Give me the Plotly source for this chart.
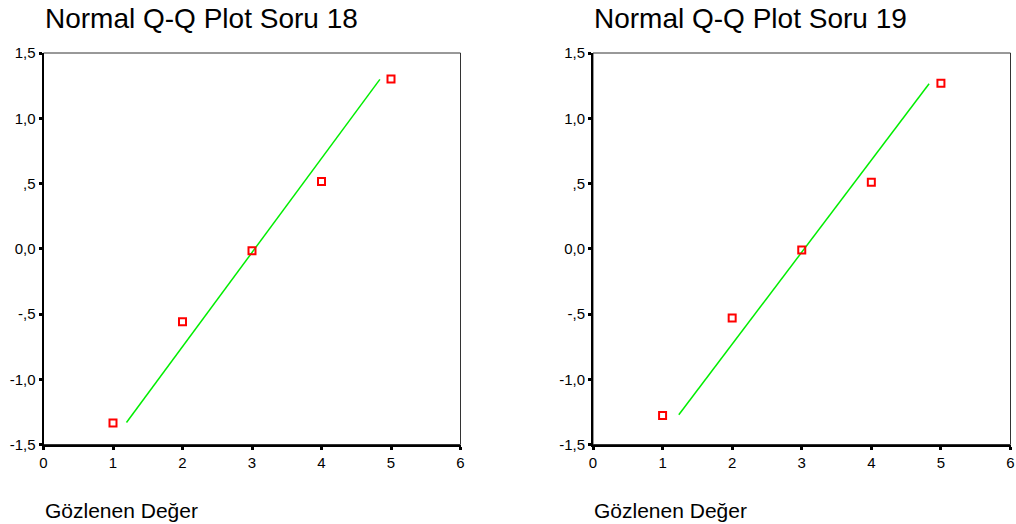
import plotly.graph_objects as go

# Data
observed = [1, 2, 3, 4, 5]
expected_18 = [-1.336, -0.559, -0.015, 0.515, 1.30]
expected_19 = [-1.277, -0.531, -0.010, 0.510, 1.269]
line18_x = [1.194, 4.84]
line18_y = [-1.331, 1.298]
line19_x = [1.233, 4.83]
line19_y = [-1.272, 1.264]
titles = ["Normal Q-Q Plot Soru 18", "Normal Q-Q Plot Soru 19"]
xlabel = "Gözlenen Değer"
ytick_vals = [-1.5, -1.0, -0.5, 0.0, 0.5, 1.0, 1.5]
ytick_text = ["-1,5", "-1,0", "-,5", "0,0", ",5", "1,0", "1,5"]
xtick_vals = [0, 1, 2, 3, 4, 5, 6]

W, H = 1016, 524
FONT = "Liberation Sans, Arial, sans-serif"

fig = go.Figure()

panels = [
    (expected_18, line18_x, line18_y, "x", "y", [43.5 / W, 460.5 / W]),
    (expected_19, line19_x, line19_y, "x2", "y2", [593 / W, 1010.5 / W]),
]
ydom = [1 - 444.5 / H, 1 - 53 / H]

for i, (ys, lx, ly, xa, ya, xdom) in enumerate(panels):
    fig.add_trace(go.Scatter(x=lx, y=ly, mode="lines", xaxis=xa, yaxis=ya,
                             line=dict(color="#00ee00", width=1.5),
                             showlegend=False, hoverinfo="skip"))
    fig.add_trace(go.Scatter(x=observed, y=ys, mode="markers", xaxis=xa, yaxis=ya,
                             marker=dict(symbol="square-open", size=7, color="#ff0000",
                                         line=dict(width=2, color="#ff0000")),
                             showlegend=False))
    sfx = "" if i == 0 else "2"
    fig.update_layout(**{
        "xaxis" + sfx: dict(domain=xdom, range=[0, 6], tickvals=xtick_vals,
                            ticktext=[str(v) for v in xtick_vals],
                            showline=True, linecolor="black", linewidth=2,
                            ticks="outside", ticklen=3, tickwidth=3, tickcolor="black",
                            showgrid=False, zeroline=False, anchor="y" + sfx,
                            automargin=False,
                            tickfont=dict(family=FONT, size=15, color="black")),
        "yaxis" + sfx: dict(domain=ydom, range=[-1.5, 1.5], tickvals=ytick_vals,
                            ticktext=ytick_text,
                            showline=True, linecolor="black", linewidth=2,
                            ticks="outside", ticklen=3, tickwidth=3, tickcolor="black",
                            showgrid=False, zeroline=False, anchor="x" + sfx,
                            automargin=False,
                            tickfont=dict(family=FONT, size=15, color="black")),
    })
    fig.add_shape(type="rect", xref=xa + " domain", yref=ya + " domain",
                  x0=0, x1=1, y0=0, y1=1, line=dict(color="#333333", width=1),
                  layer="below")
    fig.add_annotation(text=titles[i], xref="paper", yref="paper",
                       x=xdom[0] - 1 / W, y=1 - 19 / H, xanchor="left", yanchor="middle",
                       showarrow=False, font=dict(family=FONT, size=28, color="black"))
    fig.add_annotation(text=xlabel, xref="paper", yref="paper",
                       x=xdom[0] - 1 / W, y=1 - 510 / H, xanchor="left", yanchor="middle",
                       showarrow=False, font=dict(family=FONT, size=21, color="black"))

fig.update_layout(width=W, height=H, margin=dict(l=0, r=0, t=0, b=0),
                  plot_bgcolor="white", paper_bgcolor="white")

fig.write_html("out.html", config={"displayModeBar": False},
               post_script="document.body.style.margin='0';document.body.style.overflow='hidden';")
